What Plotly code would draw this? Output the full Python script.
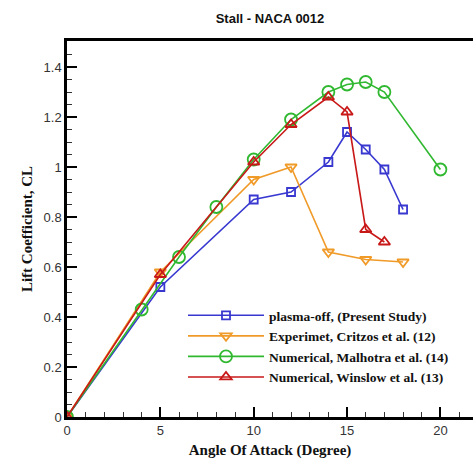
import plotly.graph_objects as go

# Data
x_plasma = [0, 5, 10, 12, 14, 15, 16, 17, 18]
cl_plasma = [0, 0.52, 0.87, 0.90, 1.02, 1.14, 1.07, 0.99, 0.83]

x_critzos = [0, 5, 10, 12, 14, 16, 18]
cl_critzos = [0, 0.58, 0.95, 1.00, 0.66, 0.63, 0.62]

x_malhotra = [0, 4, 6, 8, 10, 12, 14, 15, 16, 17, 20]
cl_malhotra = [0, 0.43, 0.64, 0.84, 1.03, 1.19, 1.30, 1.33, 1.34, 1.30, 0.99]

x_winslow = [0, 5, 10, 12, 14, 15, 16, 17]
cl_winslow = [0, 0.57, 1.02, 1.17, 1.28, 1.22, 0.75, 0.70]

names = ["plasma-off, (Present Study)",
         "Experimet, Critzos et al. (12)",
         "Numerical, Malhotra et al. (14)",
         "Numerical, Winslow et al. (13)"]

fig = go.Figure()
series = [
    (x_plasma, cl_plasma, names[0], "#3838d0", "square-open", 8),
    (x_critzos, cl_critzos, names[1], "#f09a28", "triangle-down-open", 10),
    (x_malhotra, cl_malhotra, names[2], "#30b830", "circle-open", 12),
    (x_winslow, cl_winslow, names[3], "#c81818", "triangle-up-open", 10),
]
for xs, ys, nm, col, sym, sz in series:
    fig.add_trace(go.Scatter(
        x=xs, y=ys, name="<b>" + nm + "</b>", mode="lines+markers",
        line=dict(color=col, width=1.6),
        marker=dict(symbol=sym, size=sz, color=col, line=dict(width=1.8, color=col)),
    ))

W, H = 473, 464
L, T, B = 67, 41, 47
plot_w = W - L
plot_h = H - T - B

fig.update_layout(
    width=W, height=H,
    margin=dict(l=L, r=0, t=T, b=B),
    paper_bgcolor="white", plot_bgcolor="white",
    title=dict(text="<b>Stall - NACA 0012</b>", x=(L + W) / 2 / W, xanchor="center",
               y=1 - 18 / H, yanchor="middle",
               font=dict(family="Liberation Sans, Arial", size=13, color="#111")),
    legend=dict(x=(183 - L) / plot_w, y=(417 - 300) / plot_h, xanchor="left", yanchor="top",
                bgcolor="rgba(255,255,255,0)", itemwidth=76,
                tracegroupgap=0,
                font=dict(family="Liberation Serif, Times New Roman", size=13.5, color="#111")),
    showlegend=True,
)
fig.update_xaxes(
    range=[0, plot_w / 18.67], showgrid=False, zeroline=False, automargin=False,
    showline=True, linecolor="black", linewidth=2.5, mirror=True,
    ticks="inside", ticklen=10, tickwidth=2, tickcolor="black",
    tick0=0, dtick=5,
    minor=dict(ticks="inside", ticklen=5, tickwidth=1, dtick=1, tickcolor="#333"),
    tickfont=dict(family="Liberation Sans, Arial", size=13, color="#333"),
    title=dict(text="<b>Angle Of Attack (Degree)</b>", standoff=8,
               font=dict(family="Liberation Serif, Times New Roman", size=15, color="#111")),
)
fig.update_yaxes(
    range=[0, plot_h / 250], showgrid=False, zeroline=False, automargin=False,
    showline=True, linecolor="black", linewidth=2.5, mirror=False,
    ticks="inside", ticklen=10, tickwidth=2, tickcolor="black",
    tick0=0, dtick=0.2,
    minor=dict(ticks="inside", ticklen=5, tickwidth=1, dtick=0.05, tickcolor="#333"),
    tickfont=dict(family="Liberation Sans, Arial", size=13, color="#333"),
    title=dict(text="<b>Lift Coefficient, CL</b>", standoff=8,
               font=dict(family="Liberation Serif, Times New Roman", size=15, color="#111")),
)

fig.write_html(
    "out.html",
    config={"displayModeBar": False},
    post_script=("document.body.style.margin='0';document.body.style.overflow='hidden';"
                 "document.documentElement.style.overflow='hidden';"),
)
